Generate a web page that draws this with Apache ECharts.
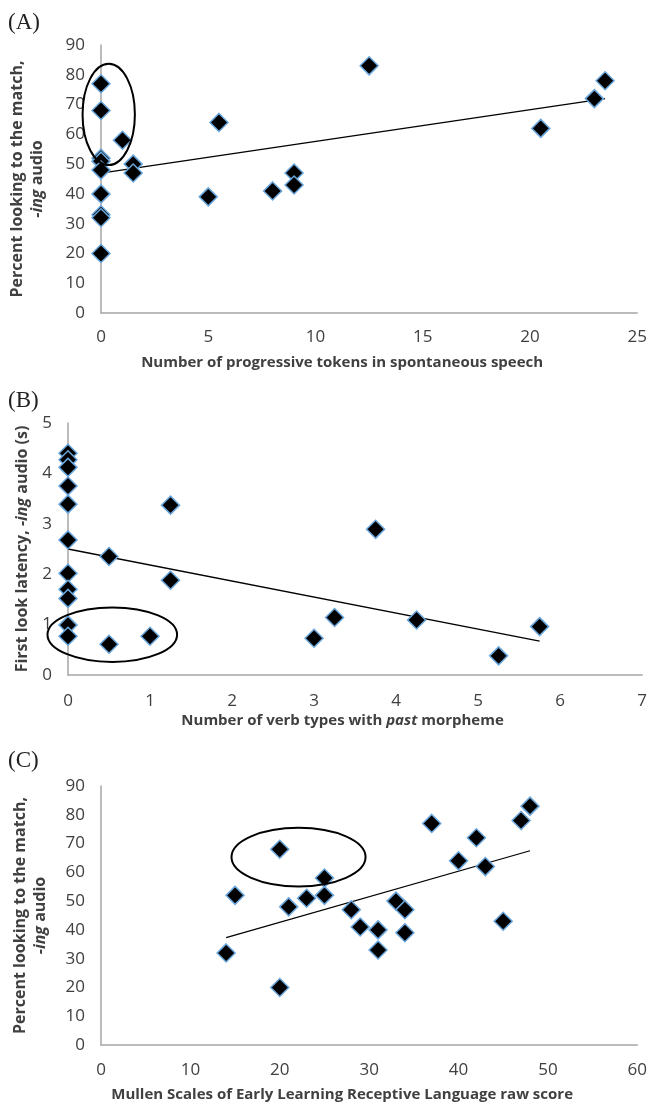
<!DOCTYPE html>
<html>
<head>
<meta charset="utf-8">
<script src="https://cdn.jsdelivr.net/npm/echarts@6.0.0/dist/echarts.min.js"></script>
<style>
  html, body { margin: 0; padding: 0; background: #fff; }
  #main { width: 650px; height: 1108px; }
</style>
</head>
<body>
<div id="main"></div>
<script>
// (A) progressive tokens vs percent looking
var xA = [0, 0, 0, 0, 0, 0, 0, 0, 0, 1, 1.5, 1.5, 5, 5.5, 8, 9, 9, 12.5, 20.5, 23, 23.5];
var yA = [77, 68, 52, 51, 48, 40, 33, 32, 20, 58, 50, 47, 39, 64, 41, 47, 43, 83, 62, 72, 78];
var trendA = [[0, 47], [23.5, 72]];
var ellipseA = [0.36, 66.7, 1.22, 17]; // cx, cy, rx, ry

// (B) past verb types vs first look latency
var xB = [0, 0, 0, 0, 0, 0, 0, 0, 0, 0, 0, 0.5, 0.5, 1, 1.25, 1.25, 3, 3.25, 3.75, 4.25, 5.25, 5.75];
var yB = [4.4, 4.27, 4.12, 3.75, 3.39, 2.68, 2.02, 1.7, 1.52, 0.99, 0.77, 2.35, 0.61, 0.77, 3.37, 1.88, 0.73, 1.14, 2.89, 1.09, 0.38, 0.96];
var trendB = [[0, 2.5], [5.75, 0.67]];
var ellipseB = [0.54, 0.8, 0.79, 0.54];

// (C) Mullen receptive language vs percent looking
var xC = [14, 15, 20, 20, 21, 23, 25, 25, 28, 29, 31, 31, 33, 34, 34, 37, 40, 42, 43, 45, 47, 48];
var yC = [32, 52, 68, 20, 48, 51, 52, 58, 47, 41, 40, 33, 50, 47, 39, 77, 64, 72, 62, 43, 78, 83];
var trendC = [[14, 37.3], [48, 67.5]];
var ellipseC = [22.1, 65.3, 7.5, 10.2];

function pairs(xs, ys) {
  return xs.map(function (x, i) { return [x, ys[i]]; });
}

var tickFont = { fontFamily: 'Open Sans', fontSize: 17, color: '#404040' };
var nameFont = { fontFamily: 'Open Sans', fontSize: 15, fontWeight: 'bold', color: '#404040' };
var richName = {
  b: { fontFamily: 'Open Sans', fontSize: 15, fontWeight: 'bold', color: '#404040', lineHeight: 20 },
  i: { fontFamily: 'Open Sans', fontSize: 15, fontWeight: 'bold', fontStyle: 'italic', color: '#404040', lineHeight: 20 }
};
var richNameY = {
  b: { fontFamily: 'Open Sans', fontSize: 16, fontWeight: 'bold', color: '#404040', lineHeight: 20 },
  i: { fontFamily: 'Open Sans', fontSize: 16, fontWeight: 'bold', fontStyle: 'italic', color: '#404040', lineHeight: 20 }
};
var axisLine = { show: true, lineStyle: { color: '#a6a6a6', width: 1.5 } };

function xAxis(idx, max, interval, name, gap, padRight, margin) {
  return {
    type: 'value', gridIndex: idx, min: 0, max: max, interval: interval,
    axisLine: axisLine, axisTick: { show: false }, splitLine: { show: false },
    axisLabel: Object.assign({ margin: margin }, tickFont),
    name: name, nameLocation: 'middle', nameGap: gap,
    nameTextStyle: Object.assign({ padding: [0, padRight, 0, 0], rich: richName }, nameFont)
  };
}
function yAxis(idx, max, interval, name, gap) {
  return {
    type: 'value', gridIndex: idx, min: 0, max: max, interval: interval,
    axisLine: axisLine, axisTick: { show: false }, splitLine: { show: false },
    axisLabel: Object.assign({ margin: 16 }, tickFont),
    name: name, nameLocation: 'middle', nameGap: gap, nameRotate: 90,
    nameTextStyle: Object.assign({ rich: richNameY }, nameFont)
  };
}

function dots(idx, data) {
  return {
    type: 'scatter', xAxisIndex: idx, yAxisIndex: idx, data: data,
    symbol: 'diamond', symbolSize: 18,
    itemStyle: { color: '#000', opacity: 1, borderColor: '#6aa6dc', borderWidth: 1.5 },
    z: 3
  };
}
function trend(idx, data) {
  return {
    type: 'line', xAxisIndex: idx, yAxisIndex: idx, data: data,
    symbol: 'none', lineStyle: { color: '#000', width: 1.3 }, z: 2
  };
}
function ring(idx, e) {
  return {
    type: 'custom', xAxisIndex: idx, yAxisIndex: idx, data: [e], clip: false,
    renderItem: function (params, api) {
      var c = api.coord([api.value(0), api.value(1)]);
      var s = api.size([api.value(2), api.value(3)]);
      return {
        type: 'ellipse',
        shape: { cx: c[0], cy: c[1], rx: s[0], ry: s[1] },
        style: { fill: 'none', stroke: '#000', lineWidth: 2 }
      };
    },
    z: 4
  };
}

var panelFont = { fontFamily: 'Liberation Serif', fontSize: 23, fontWeight: 'normal', color: '#222' };

var myChart = echarts.init(document.getElementById('main'));
var option = {
  backgroundColor: '#fff',
  animation: false,
  title: [
    { text: '(A)', left: 8, top: 11, textStyle: panelFont, padding: 0 },
    { text: '(B)', left: 8, top: 389, textStyle: panelFont, padding: 0 },
    { text: '(C)', left: 8, top: 749, textStyle: panelFont, padding: 0 }
  ],
  grid: [
    { left: 101, top: 45, width: 538, height: 268 },
    { left: 68, top: 423, width: 575, height: 252 },
    { left: 101, top: 786, width: 538, height: 259 }
  ],
  xAxis: [
    xAxis(0, 25, 5, 'Number of progressive tokens in spontaneous speech', 42, 54, 16),
    xAxis(1, 7, 1, '{b|Number of verb types with }{i|past}{b| morpheme}', 36, 25, 18),
    xAxis(2, 60, 10, 'Mullen Scales of Early Learning Receptive Language raw score', 42, 54, 17)
  ],
  yAxis: [
    yAxis(0, 90, 10, '{b|Percent looking to the match,}\n{i|-ing}{b| audio}', 54),
    yAxis(1, 5, 1, '{b|First look latency, }{i|-ing}{b| audio (s)}', 36),
    yAxis(2, 90, 10, '{b|Percent looking to the match,}\n{i|-ing}{b| audio}', 51)
  ],
  series: [
    trend(0, trendA), dots(0, pairs(xA, yA)), ring(0, ellipseA),
    trend(1, trendB), dots(1, pairs(xB, yB)), ring(1, ellipseB),
    trend(2, trendC), dots(2, pairs(xC, yC)), ring(2, ellipseC)
  ]
};
myChart.setOption(option);
</script>
</body>
</html>
